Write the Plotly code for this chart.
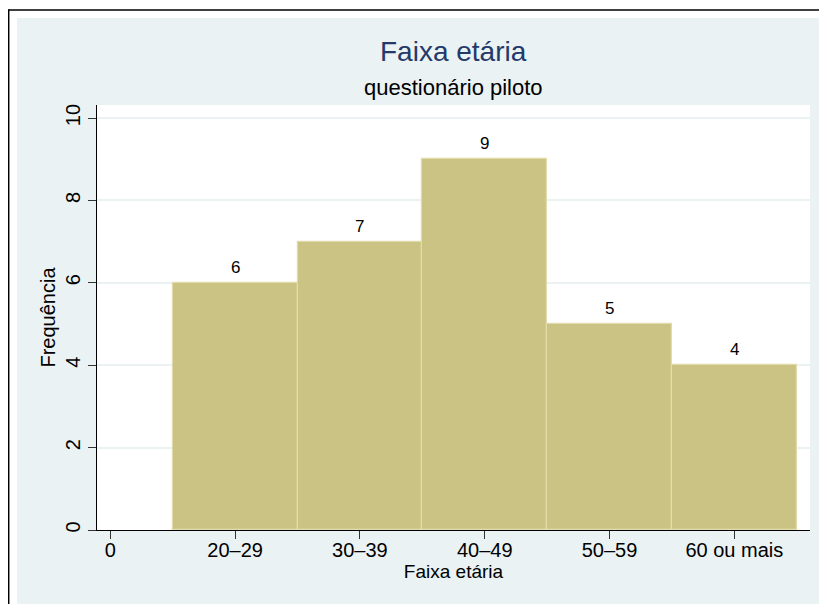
import plotly.graph_objects as go

# ---- data ----
categories = ["20–29", "30–39", "40–49", "50–59", "60 ou mais"]
positions = [1, 2, 3, 4, 5]
frequencies = [6, 7, 9, 5, 4]
x_tick_vals = [0, 1, 2, 3, 4, 5]
x_tick_text = ["0"] + categories
y_tick_vals = [0, 2, 4, 6, 8, 10]

title_text = "Faixa etária"
subtitle_text = "questionário piloto"
x_title = "Faixa etária"
y_title = "Frequência"

BG = "#EAF2F3"
BAR = "#CBC383"
BAR_LINE = "#E2DCAA"
NAVY = "#24396A"
FONT = "Liberation Sans, Arial, Helvetica, sans-serif"

# page is rendered with an 8px body margin -> figure origin at page (8, 8)
OFF = 8
W, H = 819, 596
# plot area in page coords: x 97..810, y 105..530
L, T = 97 - OFF, 105 - OFF
R = W - (810 - OFF)
B = H - (530 - OFF)
PW, PH = W - L - R, H - T - B


def px(xpage):
    return (xpage - OFF - L) / PW


def py(ypage):
    return (H - B - (ypage - OFF)) / PH


fig = go.Figure()
fig.add_trace(go.Bar(
    x=positions, y=frequencies, width=1,
    marker=dict(color=BAR, line=dict(color=BAR_LINE, width=1.2)),
    hoverinfo="skip",
))

annotations = []
for xv, yv in zip(positions, frequencies):
    annotations.append(dict(x=xv, y=yv, xref="x", yref="y", text=str(yv),
                            showarrow=False, yanchor="bottom", yshift=4,
                            font=dict(size=17, color="black", family=FONT)))

annotations.append(dict(x=0.5, y=py(52), xref="paper", yref="paper", text=title_text,
                        showarrow=False, xanchor="center", yanchor="middle",
                        font=dict(size=28, color=NAVY, family=FONT)))
annotations.append(dict(x=0.5, y=py(87), xref="paper", yref="paper", text=subtitle_text,
                        showarrow=False, xanchor="center", yanchor="middle",
                        font=dict(size=22, color="black", family=FONT)))

shapes = [
    dict(type="rect", xref="paper", yref="paper", layer="below",
         x0=px(0), x1=px(17), y0=py(H + OFF), y1=py(0),
         fillcolor="white", line=dict(width=0)),
    dict(type="rect", xref="paper", yref="paper", layer="below",
         x0=px(0), x1=px(W + OFF), y0=py(18), y1=py(0),
         fillcolor="white", line=dict(width=0)),
    dict(type="line", xref="paper", yref="paper", layer="below",
         x0=px(8.7), x1=px(8.7), y0=py(9.3), y1=py(H + OFF),
         line=dict(color="black", width=1.5)),
    dict(type="line", xref="paper", yref="paper", layer="below",
         x0=px(8.7), x1=px(W + OFF), y0=py(10), y1=py(10),
         line=dict(color="black", width=1.5)),
]

x0 = -0.1066
fig.update_layout(
    width=W, height=H,
    margin=dict(l=L, r=R, t=T, b=B, pad=0),
    paper_bgcolor=BG, plot_bgcolor="white",
    font=dict(family=FONT, color="black"),
    showlegend=False,
    bargap=0,
    annotations=annotations,
    shapes=shapes,
    xaxis=dict(
        range=[x0, x0 + PW / 124.8],
        tickmode="array", tickvals=x_tick_vals, ticktext=x_tick_text,
        ticks="outside", ticklen=8, tickwidth=1.3, tickcolor="#333",
        ticklabelstandoff=-6,
        showline=True, linecolor="black", linewidth=1.3,
        showgrid=False, zeroline=False,
        tickfont=dict(size=20, color="black"),
        title=dict(text=x_title, font=dict(size=19, color="black"), standoff=0),
    ),
    yaxis=dict(
        range=[0, PH / 41.2],
        tickmode="array", tickvals=y_tick_vals,
        ticks="outside", ticklen=8, tickwidth=1.3, tickcolor="#333",
        tickangle=-90,
        showline=True, linecolor="black", linewidth=1.3,
        showgrid=True, gridcolor=BG, gridwidth=1.5,
        zeroline=False,
        tickfont=dict(size=20, color="black"),
        title=dict(text=y_title, font=dict(size=20, color="black"), standoff=0),
    ),
)

fig.write_html("out.html")
